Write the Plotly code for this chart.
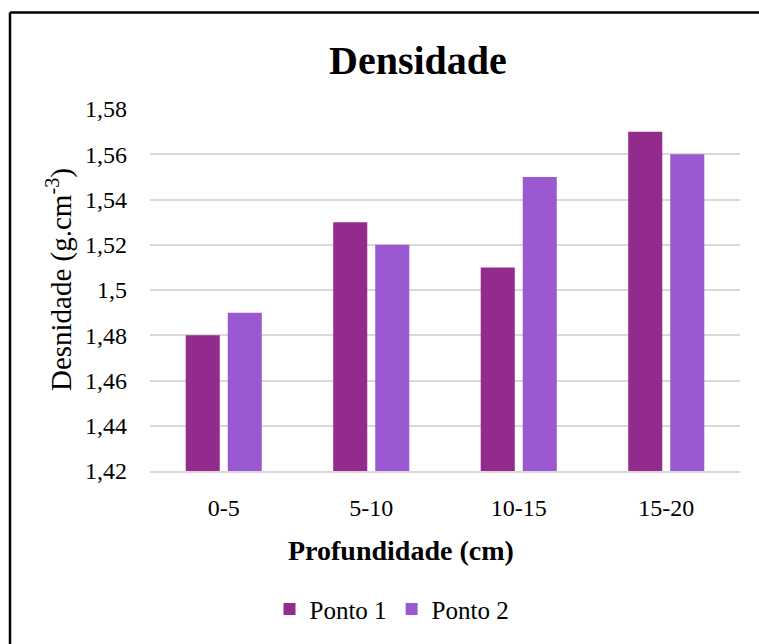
import plotly.graph_objects as go

categories = ["0-5", "5-10", "10-15", "15-20"]
ponto1 = [1.48, 1.53, 1.51, 1.57]
ponto2 = [1.49, 1.52, 1.55, 1.56]
series_names = ["Ponto 1", "Ponto 2"]
colors = ["#922B8C", "#9B59D1"]
y_tickvals = [1.42, 1.44, 1.46, 1.48, 1.50, 1.52, 1.54, 1.56, 1.58]
y_ticktext = ["1,42", "1,44", "1,46", "1,48", "1,5", "1,52", "1,54", "1,56", "1,58"]

FONT = "Liberation Serif"
W, H = 759, 644
L, R, T, B = 150, 19, 109, 171
pw, ph = W - L - R, H - T - B

def px(x):
    return (x - L) / pw

def py(y):
    return (H - B - y) / ph

fig = go.Figure()
for name, vals, col in zip(series_names, [ponto1, ponto2], colors):
    fig.add_trace(go.Bar(x=categories, y=vals, name=name, marker_color=col,
                         marker_line_width=0))

fig.update_layout(
    width=W, height=H,
    margin=dict(l=L, r=R, t=T, b=B),
    paper_bgcolor="white", plot_bgcolor="white",
    barmode="group", bargap=0.43, bargroupgap=0.19,
    font=dict(family=FONT, size=24, color="#000000"),
    showlegend=True,
    legend=dict(orientation="h", x=px(392), xanchor="center", y=py(612), yanchor="middle",
                font=dict(size=25), itemwidth=30, traceorder="normal"),
    xaxis=dict(showgrid=False, showline=True, linecolor="#d9d9d9", linewidth=2,
               tickfont=dict(size=24), ticks="", ticklabelstandoff=14),
    yaxis=dict(range=[1.42, 1.58], tickvals=y_tickvals, ticktext=y_ticktext,
               showgrid=True, gridcolor="#d9d9d9", gridwidth=1.5, zeroline=False,
               showline=False, tickfont=dict(size=24), ticks="", ticklabelstandoff=22),
)

fig.add_annotation(text="<b>Densidade</b>", xref="paper", yref="paper",
                   x=px(418), y=py(60), xanchor="center", yanchor="middle",
                   showarrow=False, font=dict(size=40, family=FONT))
fig.add_annotation(text="<b>Profundidade (cm)</b>", xref="paper", yref="paper",
                   x=px(401), y=py(553), xanchor="center", yanchor="middle",
                   showarrow=False, font=dict(size=28, family=FONT))
fig.add_annotation(text="Desnidade (g.cm<sup>-3</sup>)", xref="paper", yref="paper",
                   x=px(59), y=py(281), xanchor="center", yanchor="middle", textangle=-90,
                   showarrow=False, font=dict(size=29, family=FONT))

# outer chart frame (top and left edges visible)
fig.add_shape(type="line", xref="paper", yref="paper", x0=px(10), x1=px(W + 20),
              y0=py(12), y1=py(12), line=dict(color="black", width=2.5))
fig.add_shape(type="line", xref="paper", yref="paper", x0=px(10), x1=px(10),
              y0=py(12), y1=py(H + 20), line=dict(color="black", width=2.5))

fig.write_html("out.html")
